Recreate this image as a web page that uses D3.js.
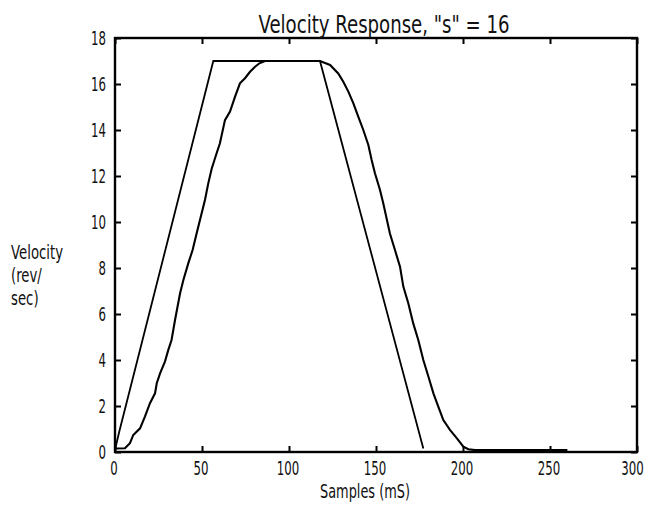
<!DOCTYPE html>
<html>
<head>
    <title>Velocity Response</title>
    <meta charset="utf-8">
    <style>
        body { margin: 0; background: #fff; }
        svg text { font-family: "Liberation Sans Narrow", "DejaVu Sans", sans-serif; transform-box: fill-box; }
        .axis--x text { transform-origin: center; transform: scaleX(0.62); }
        .axis--y text { transform-origin: right center; transform: scaleX(0.62); }
        .title { transform-origin: center; transform: scaleX(0.755); }
        .xlabel { transform-origin: center; transform: scaleX(0.68); }
        .ylabel text { transform-origin: left center; transform: scaleX(0.7); }
    </style>
</head>
<body>
    <svg width="647" height="505"></svg>

    <script src="https://cdn.jsdelivr.net/npm/d3@7"></script>
    <script>

    // commanded trapezoid profile (ms, rev/sec)
    var trapT = [0, 2.5, 56.5, 117.8, 177.2],
        trapV = [0.1, 0.9, 17, 17, 0.15];

    // measured response
    var respT = [0, 5.7, 8.6, 10.5, 14.4, 17.2, 20.1, 23, 24, 25.9, 28.7, 30.6, 32.5, 34.5, 37.4, 39.3,
                 42.1, 44.6, 46.9, 49.8, 51.7, 53.6, 55.6, 58.4, 60.3, 63.2, 66.1, 69, 71.8, 74.7, 77.6,
                 80.5, 83, 86.2, 117.8, 123.6, 128.3, 131.2, 134.1, 137, 139.8, 142.7, 145.6, 147.5, 149.4,
                 152.3, 154.2, 158, 160.9, 163.8, 165.7, 168.6, 171.4, 174.3, 177.2, 180.1, 183, 185.8,
                 188.7, 192.5, 196.4, 200.2, 203.1, 207, 260],
        respV = [0.15, 0.16, 0.38, 0.74, 1.03, 1.54, 2.12, 2.55, 2.99, 3.42, 3.93, 4.43, 4.87, 5.74, 6.9, 7.48,
                 8.2, 8.78, 9.5, 10.38, 10.96, 11.68, 12.33, 12.99, 13.42, 14.43, 14.8, 15.45, 16.03, 16.25, 16.53,
                 16.75, 16.9, 17, 17, 16.83, 16.46, 16.1, 15.67, 15.16, 14.58, 14.0, 13.35, 12.7, 12.12,
                 11.39, 10.8, 9.5, 8.78, 8.06, 7.19, 6.46, 5.59, 4.87, 4.0, 3.28, 2.55, 1.97,
                 1.39, 0.96, 0.6, 0.23, 0.12, 0.08, 0.08];

    var xTicks = [0, 50, 100, 150, 200, 250, 300],
        yTicks = [0, 2, 4, 6, 8, 10, 12, 14, 16, 18];

    var title = "Velocity Response, \"s\" = 16",
        xLabel = "Samples (mS)",
        yLabel = ["Velocity", "(rev/", "sec)"];

    var svg = d3.select("svg"),
        margin = {top: 38, right: 10, bottom: 53, left: 115},
        width = +svg.attr("width") - margin.left - margin.right,
        height = +svg.attr("height") - margin.top - margin.bottom;

    var x = d3.scaleLinear().domain([0, 300]).range([0, width]),
        y = d3.scaleLinear().domain([0, 18]).range([height, 0]);

    var g = svg.append("g")
        .attr("transform", "translate(" + margin.left + "," + margin.top + ")");

    var tickLen = 6;

    function axis(a, sel) {
        sel.call(a);
        sel.selectAll(".domain").remove();
        sel.selectAll("line").attr("stroke", "#000").attr("stroke-width", 2);
        sel.selectAll("text").attr("font-size", 19).attr("fill", "#111");
        sel.attr("font-family", null).attr("font-size", null);
    }

    // bottom + top
    g.append("g")
        .attr("class", "axis axis--x")
        .attr("transform", "translate(0," + height + ")")
        .call(function(s) { axis(d3.axisBottom(x).tickValues(xTicks).tickSizeInner(-tickLen).tickSizeOuter(0).tickPadding(10), s); })
        .selectAll("text")
        .attr("x", function(d) { return d === 300 ? -5 : -1.5; });

    g.append("g")
        .call(function(s) { axis(d3.axisTop(x).tickValues(xTicks).tickSizeInner(-tickLen).tickSizeOuter(0).tickFormat(""), s); });

    // left + right
    g.append("g")
        .attr("class", "axis axis--y")
        .call(function(s) { axis(d3.axisLeft(y).tickValues(yTicks).tickSizeInner(-tickLen).tickSizeOuter(0).tickPadding(9), s); });

    g.append("g")
        .attr("transform", "translate(" + width + ",0)")
        .call(function(s) { axis(d3.axisRight(y).tickValues(yTicks).tickSizeInner(-tickLen).tickSizeOuter(0).tickFormat(""), s); });

    g.append("rect")
        .attr("width", width)
        .attr("height", height)
        .attr("fill", "none")
        .attr("stroke", "#000")
        .attr("stroke-width", 2.4);

    var trap = trapT.map(function(t, i) { return [t, trapV[i]]; }),
        resp = respT.map(function(t, i) { return [t, respV[i]]; });

    var line = d3.line()
        .x(function(d) { return x(d[0]); })
        .y(function(d) { return y(d[1]); });

    g.append("path")
        .datum(trap)
        .attr("fill", "none")
        .attr("stroke", "#000")
        .attr("stroke-width", 1.8)
        .attr("d", line);

    g.append("path")
        .datum(resp)
        .attr("fill", "none")
        .attr("stroke", "#000")
        .attr("stroke-width", 2.1)
        .attr("d", line);

    // labels
    svg.append("text")
        .attr("class", "title")
        .attr("x", 384)
        .attr("y", 33)
        .attr("text-anchor", "middle")
        .attr("font-size", 24)
        .attr("fill", "#111")
        .text(title);

    svg.append("text")
        .attr("class", "xlabel")
        .attr("x", 365)
        .attr("y", 498)
        .attr("text-anchor", "middle")
        .attr("font-size", 19)
        .attr("fill", "#111")
        .text(xLabel);

    svg.append("g")
        .attr("class", "ylabel")
        .selectAll("text")
        .data(yLabel)
        .enter().append("text")
        .attr("x", 11)
        .attr("y", function(d, i) { return 259 + i * 23; })
        .attr("font-size", 19)
        .attr("fill", "#111")
        .text(function(d) { return d; });

    </script>
</body>
</html>
